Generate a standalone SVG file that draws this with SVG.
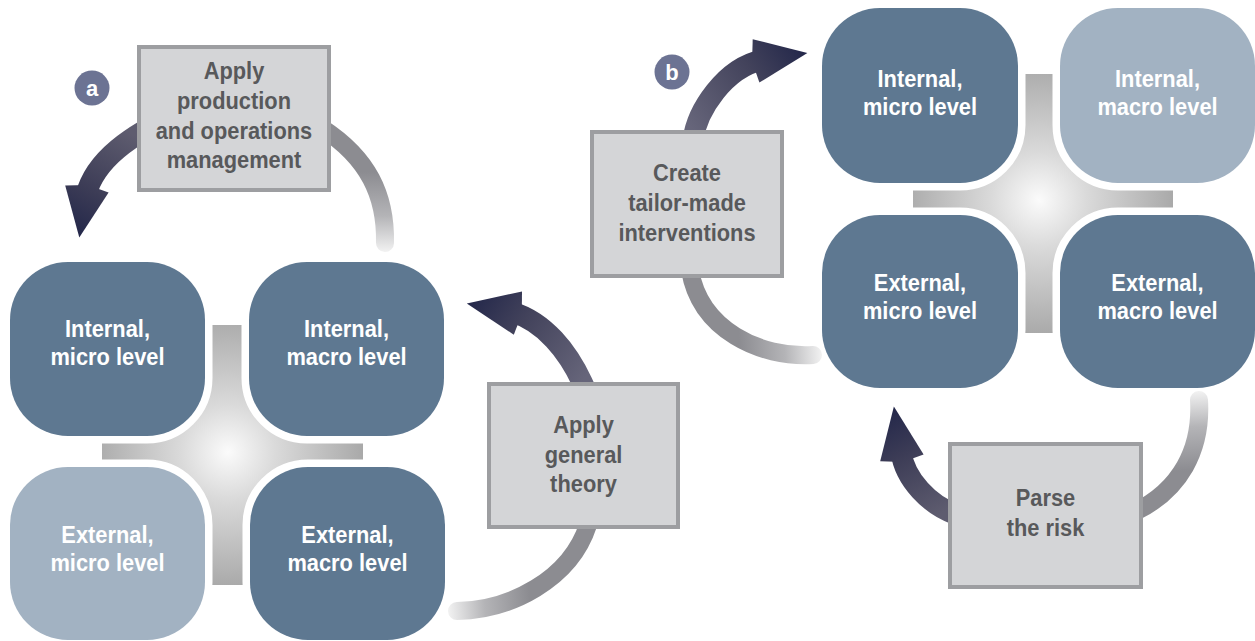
<svg xmlns="http://www.w3.org/2000/svg" width="1255" height="641" viewBox="0 0 1255 641">
<defs>
<style>
.tile{stroke:#ffffff;stroke-width:15;paint-order:stroke}
.dark{fill:#5e7891}
.light{fill:#a2b2c2}
.box{fill:#d4d5d7;stroke:#9d9ea1;stroke-width:4}
.tt{font-family:"Liberation Sans",Arial,sans-serif;font-weight:bold;font-size:23px;fill:#ffffff;text-anchor:middle}
.bt{font-family:"Liberation Sans",Arial,sans-serif;font-weight:bold;font-size:23px;fill:#58595b;text-anchor:middle}
.badge{fill:#6c7393}
.bl{font-family:"Liberation Sans",Arial,sans-serif;font-weight:bold;font-size:22px;fill:#ffffff;text-anchor:middle}
.tail{fill:none;stroke-width:18;stroke-linecap:round}
.head{fill:none;stroke-width:21;stroke-linecap:butt}
</style>
<radialGradient id="rg1" gradientUnits="userSpaceOnUse" cx="228" cy="452" r="135">
<stop offset="0" stop-color="#fbfbfb"/><stop offset="0.35" stop-color="#dadada"/><stop offset="1" stop-color="#a9a9a9"/>
</radialGradient>
<radialGradient id="rg2" gradientUnits="userSpaceOnUse" cx="1039" cy="200" r="135">
<stop offset="0" stop-color="#fbfbfb"/><stop offset="0.35" stop-color="#dadada"/><stop offset="1" stop-color="#a9a9a9"/>
</radialGradient>
<linearGradient id="t1" gradientUnits="userSpaceOnUse" x1="385" y1="252" x2="385" y2="172">
<stop offset="0" stop-color="#f2f2f2"/><stop offset="0.45" stop-color="#b4b4b7"/><stop offset="1" stop-color="#8c8c91"/>
</linearGradient>
<linearGradient id="t2" gradientUnits="userSpaceOnUse" x1="448" y1="611" x2="530" y2="604">
<stop offset="0" stop-color="#f2f2f2"/><stop offset="0.45" stop-color="#b4b4b7"/><stop offset="1" stop-color="#8c8c91"/>
</linearGradient>
<linearGradient id="t3" gradientUnits="userSpaceOnUse" x1="822" y1="355" x2="740" y2="359">
<stop offset="0" stop-color="#f2f2f2"/><stop offset="0.45" stop-color="#b4b4b7"/><stop offset="1" stop-color="#8c8c91"/>
</linearGradient>
<linearGradient id="t4" gradientUnits="userSpaceOnUse" x1="1199" y1="391" x2="1203" y2="470">
<stop offset="0" stop-color="#f2f2f2"/><stop offset="0.45" stop-color="#b4b4b7"/><stop offset="1" stop-color="#8c8c91"/>
</linearGradient>
<linearGradient id="h1" gradientUnits="userSpaceOnUse" x1="137" y1="137" x2="79" y2="237">
<stop offset="0" stop-color="#5e5c6f"/><stop offset="0.6" stop-color="#3c3c56"/><stop offset="1" stop-color="#23274a"/>
</linearGradient>
<linearGradient id="h2" gradientUnits="userSpaceOnUse" x1="582" y1="382" x2="467" y2="303">
<stop offset="0" stop-color="#66657a"/><stop offset="0.6" stop-color="#42425b"/><stop offset="1" stop-color="#23274a"/>
</linearGradient>
<linearGradient id="h3" gradientUnits="userSpaceOnUse" x1="693" y1="130" x2="807" y2="53">
<stop offset="0" stop-color="#66657a"/><stop offset="0.6" stop-color="#42425b"/><stop offset="1" stop-color="#23274a"/>
</linearGradient>
<linearGradient id="h4" gradientUnits="userSpaceOnUse" x1="948" y1="510" x2="893" y2="407">
<stop offset="0" stop-color="#5e5c6f"/><stop offset="0.6" stop-color="#3c3c56"/><stop offset="1" stop-color="#23274a"/>
</linearGradient>
</defs>
<rect width="1255" height="641" fill="#ffffff"/>

<g id="cluster-a">
<rect x="102" y="325" width="261" height="260" fill="url(#rg1)"/>
<g id="a-internal-micro"><rect class="tile dark" x="10" y="262" width="195" height="174" rx="58"/>
<g transform="translate(107.5 0) scale(0.95 1)"><text class="tt" x="0" y="337">Internal,</text><text class="tt" x="0" y="365">micro level</text></g></g>
<g id="a-internal-macro"><rect class="tile dark" x="249" y="262" width="195" height="174" rx="58"/>
<g transform="translate(346.5 0) scale(0.95 1)"><text class="tt" x="0" y="337">Internal,</text><text class="tt" x="0" y="365">macro level</text></g></g>
<g id="a-external-micro"><rect class="tile light" x="10" y="467" width="195" height="173" rx="58"/>
<g transform="translate(107.5 0) scale(0.95 1)"><text class="tt" x="0" y="543">External,</text><text class="tt" x="0" y="571">micro level</text></g></g>
<g id="a-external-macro"><rect class="tile dark" x="250" y="467" width="195" height="173" rx="58"/>
<g transform="translate(347.5 0) scale(0.95 1)"><text class="tt" x="0" y="543">External,</text><text class="tt" x="0" y="571">macro level</text></g></g>
</g>

<g id="cluster-b">
<rect x="913" y="74" width="260" height="259" fill="url(#rg2)"/>
<g id="b-internal-micro"><rect class="tile dark" x="822" y="8" width="196" height="175" rx="58"/>
<g transform="translate(920 0) scale(0.95 1)"><text class="tt" x="0" y="87">Internal,</text><text class="tt" x="0" y="115">micro level</text></g></g>
<g id="b-internal-macro"><rect class="tile light" x="1060" y="8" width="195" height="175" rx="58"/>
<g transform="translate(1157.5 0) scale(0.95 1)"><text class="tt" x="0" y="87">Internal,</text><text class="tt" x="0" y="115">macro level</text></g></g>
<g id="b-external-micro"><rect class="tile dark" x="822" y="215" width="196" height="173" rx="58"/>
<g transform="translate(920 0) scale(0.95 1)"><text class="tt" x="0" y="291">External,</text><text class="tt" x="0" y="319">micro level</text></g></g>
<g id="b-external-macro"><rect class="tile dark" x="1060" y="215" width="195" height="173" rx="58"/>
<g transform="translate(1157.5 0) scale(0.95 1)"><text class="tt" x="0" y="291">External,</text><text class="tt" x="0" y="319">macro level</text></g></g>
</g>

<g id="connectors">
<path class="tail" stroke="url(#t1)" d="M385,243 C386,195 368,158 322,128"/>
<path class="head" stroke="url(#h1)" d="M180,112 C130,135 95,160 86,195"/>
<polygon fill="url(#h1)" points="79.3,237.5 65.2,185.6 87.6,185.1 108.6,192.5"/>

<path class="tail" stroke="url(#t2)" d="M457,611 C510,610 570,580 588,525"/>
<path class="head" stroke="url(#h2)" d="M588,395 L582,382 C568,352 545,322 512,312"/>
<polygon fill="url(#h2)" points="466.8,303.4 522,291.5 521.8,313.9 513.8,334.7"/>

<path class="tail" stroke="url(#t3)" d="M813,355 C760,358 700,330 690,270"/>
<path class="head" stroke="url(#h3)" d="M693,140 C697,110 725,68 762,60"/>
<polygon fill="url(#h3)" points="807.4,53 759.4,82.6 752.1,61.5 752.7,39.2"/>

<path class="tail" stroke="url(#t4)" d="M1199,400 C1202,450 1180,490 1135,512"/>
<path class="head" stroke="url(#h4)" d="M955,514 C930,505 905,480 901,452"/>
<polygon fill="url(#h4)" points="893.9,406.6 923.6,454.5 902.6,461.9 880.2,461.3"/>
</g>

<g id="box-production">
<rect class="box" x="139" y="47" width="190" height="143"/>
<g transform="translate(234 0) scale(0.95 1)"><text class="bt" x="0" y="79">Apply</text><text class="bt" x="0" y="109">production</text><text class="bt" x="0" y="139">and operations</text><text class="bt" x="0" y="168">management</text></g>
</g>
<g id="box-general-theory">
<rect class="box" x="489" y="384" width="189" height="143"/>
<g transform="translate(583.5 0) scale(0.95 1)"><text class="bt" x="0" y="433">Apply</text><text class="bt" x="0" y="463">general</text><text class="bt" x="0" y="492">theory</text></g>
</g>
<g id="box-interventions">
<rect class="box" x="592" y="132" width="190" height="144"/>
<g transform="translate(687 0) scale(0.95 1)"><text class="bt" x="0" y="181">Create</text><text class="bt" x="0" y="211">tailor-made</text><text class="bt" x="0" y="241">interventions</text></g>
</g>
<g id="box-parse-risk">
<rect class="box" x="950" y="444" width="191" height="143"/>
<g transform="translate(1045.5 0) scale(0.95 1)"><text class="bt" x="0" y="506">Parse</text><text class="bt" x="0" y="536">the risk</text></g>
</g>

<g id="badge-a"><circle class="badge" cx="92" cy="88" r="17.5"/><text class="bl" x="92" y="96">a</text></g>
<g id="badge-b"><circle class="badge" cx="672" cy="72" r="17.5"/><text class="bl" x="672" y="80">b</text></g>
</svg>
